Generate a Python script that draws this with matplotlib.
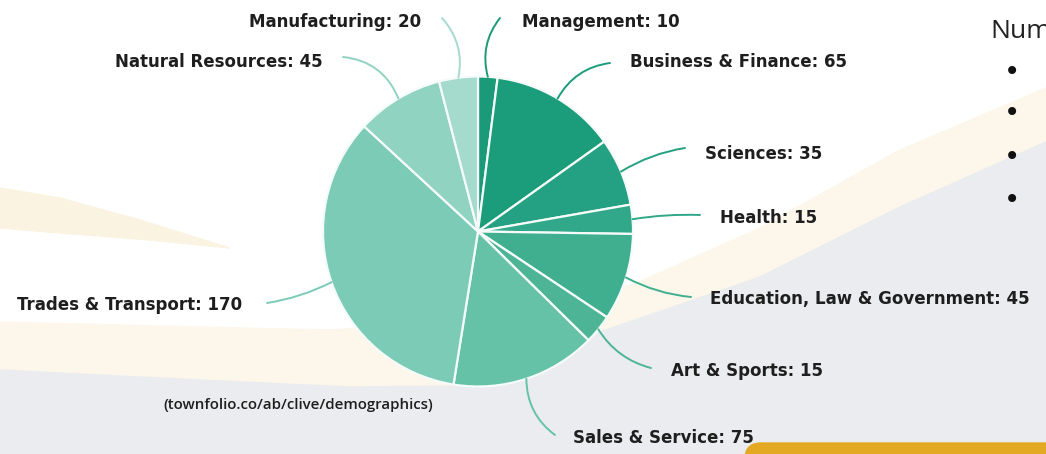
import numpy as np
import matplotlib.pyplot as plt
from matplotlib.patches import Polygon, FancyBboxPatch

# occupations (townfolio)
categories = ['Management', 'Business & Finance', 'Sciences', 'Health',
              'Education, Law & Government', 'Art & Sports', 'Sales & Service',
              'Trades & Transport', 'Natural Resources', 'Manufacturing']
values = [10, 65, 35, 15, 45, 15, 75, 170, 45, 20]
colors = ['#1a9a78', '#1b9c7b', '#24a182', '#31a889', '#40af90', '#4db596',
          '#66c2a6', '#7bcbb6', '#90d3c1', '#a4dbcc']
source = '(townfolio.co/ab/clive/demographics)'

W, H = 1046, 454
fig = plt.figure(figsize=[W / 100, H / 100], dpi=100)
ax = fig.add_axes([0, 0, 1, 1])

# fondo de la diapositiva
ax.add_patch(Polygon([[0, 0], [W, 0], [W, H], [0, H]], color='white', zorder=0))
upper = [[0, 322], [200, 327], [330, 330], [450, 322], [632, 285], [760, 228], [900, 150], [W, 88]]
lower = [[0, 370], [200, 380], [350, 387], [460, 386], [540, 365], [600, 332], [760, 277], [900, 207], [W, 142]]
ax.add_patch(Polygon(upper + lower[::-1], color='#fcf7ea', zorder=0.5))
ax.add_patch(Polygon(lower + [[W, H], [0, H]], color='#ebecef', zorder=0.6))
ax.add_patch(Polygon([[0, 188], [60, 198], [140, 220], [230, 248], [150, 240], [60, 233], [0, 228]],
                     color='#faf3e2', zorder=0.5))
ax.add_patch(FancyBboxPatch((745, 443), 400, 40, boxstyle='round,pad=0,rounding_size=16',
                            color='#e3a922', zorder=0.7))

cx, cy, r = 478, 231.5, 155
wedges, _ = ax.pie(values, colors=colors, startangle=-90, counterclock=True,
                   center=(cx, cy), radius=r,
                   wedgeprops=dict(edgecolor='#f4fbf8', linewidth=1.6))

# text x, text y, alineación, fin de línea x, y, curvatura
layout = [
    (522, 22, 'left', 500, 18, -0.25),
    (630, 62, 'left', 610, 63, -0.25),
    (705, 154, 'left', 685, 148, -0.1),
    (720, 218, 'left', 700, 215, -0.05),
    (710, 299, 'left', 691, 297, 0.1),
    (671, 371, 'left', 651, 368, 0.2),
    (573, 438, 'left', 555, 435, 0.25),
    (242, 305, 'right', 267, 303, -0.08),
    (323, 62, 'right', 343, 57, 0.3),
    (421, 22, 'right', 442, 18, 0.25),
]

for w, name, val, col, (tx, ty, ha, lx, ly, rad) in zip(wedges, categories, values, colors, layout):
    ang = np.deg2rad((w.theta1 + w.theta2) / 2)
    px, py = cx + r * np.cos(ang), cy + r * np.sin(ang)
    ax.annotate('', xy=(lx, ly), xytext=(px, py),
                arrowprops=dict(arrowstyle='-', color=col, lw=1.4, shrinkA=0, shrinkB=0,
                                connectionstyle=f'arc3,rad={rad}'), zorder=1)
    ax.text(tx, ty, f'{name}: {val}', ha=ha, va='center', fontsize=12,
            fontweight='bold', color='#1e1e1e', zorder=3)

ax.text(163, 405, source, ha='left', va='center', fontsize=10.8,
        family='Open Sans', fontweight='semibold', color='#1e1e1e', zorder=3)

ax.text(990, 32, 'Num', ha='left', va='center', fontsize=19, family='Open Sans',
        color='#222222', zorder=3)
for by in [72, 113, 157, 200]:
    ax.text(1012, by, '\u2022', ha='center', va='center', fontsize=20,
            color='#111111', zorder=3)

ax.set_xlim(0, W)
ax.set_ylim(H, 0)
ax.set_aspect('equal')
ax.axis('off')

plt.savefig('out.png', dpi=100)
